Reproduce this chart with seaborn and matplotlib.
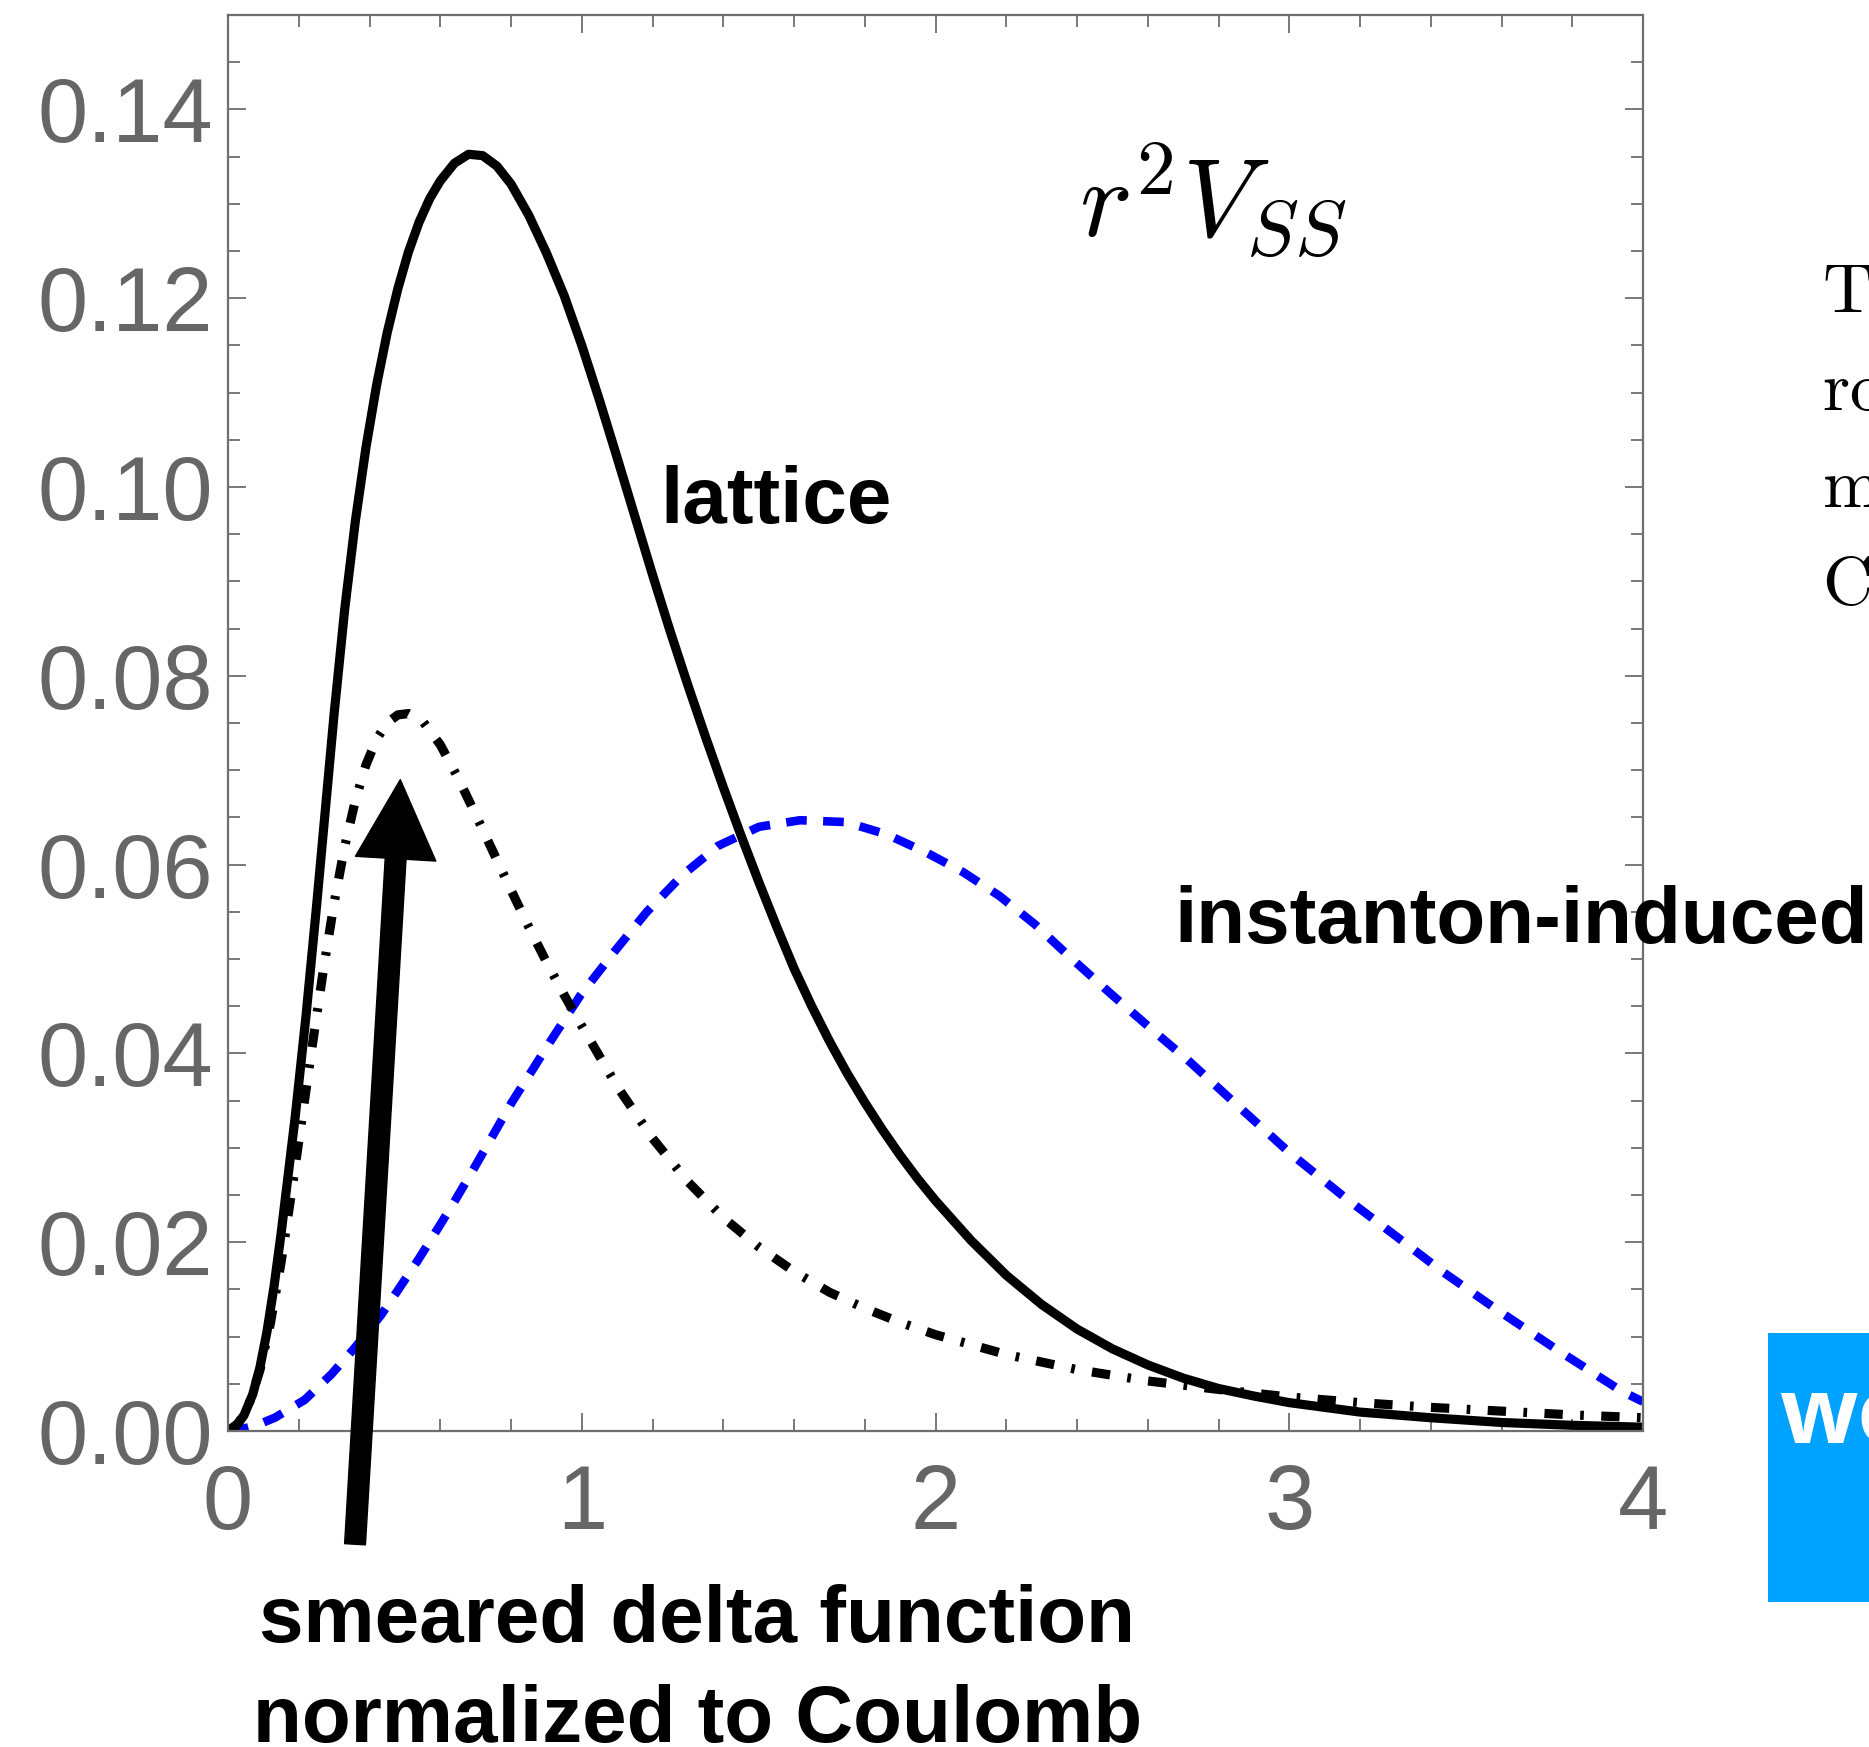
import numpy as np
import pandas as pd
import matplotlib
matplotlib.use("Agg")
import matplotlib.pyplot as plt
import seaborn as sns
from matplotlib.patches import FancyArrowPatch, ArrowStyle, Rectangle
from matplotlib.ticker import MultipleLocator, FixedLocator

# ---------------- data ----------------
lattice_r = [0.0, 0.02, 0.045, 0.07, 0.09, 0.11, 0.13, 0.15, 0.19, 0.22, 0.25, 0.28, 0.30,
             0.33, 0.36, 0.39, 0.42, 0.45, 0.48, 0.51, 0.54, 0.57, 0.60, 0.64, 0.68,
             0.72, 0.76, 0.80, 0.85, 0.90, 0.95, 1.00, 1.05, 1.10, 1.15, 1.20, 1.25,
             1.30, 1.35, 1.40, 1.45, 1.50, 1.55, 1.60, 1.65, 1.70, 1.75, 1.80, 1.85,
             1.90, 1.95, 2.00, 2.10, 2.20, 2.30, 2.40, 2.50, 2.60, 2.70, 2.80, 2.90,
             3.00, 3.20, 3.40, 3.60, 3.80, 4.00]
lattice_v = [0.0, 0.0004, 0.00165, 0.0039, 0.0067, 0.0105, 0.0153, 0.0209, 0.0333, 0.0438, 0.0555,
             0.0678, 0.0760, 0.0871, 0.0964, 0.1042, 0.1108, 0.11635, 0.1210, 0.1249, 0.12805,
             0.13054, 0.13243, 0.13430, 0.13525, 0.1351, 0.1340, 0.1321, 0.1288, 0.1248, 0.1203,
             0.1150, 0.1092, 0.1031, 0.0969, 0.0907, 0.0847, 0.0790, 0.0735, 0.0682, 0.0631,
             0.0582, 0.0535, 0.0490, 0.0450, 0.0413, 0.0379, 0.0348, 0.0319, 0.0292, 0.0267,
             0.0244, 0.0202, 0.0165, 0.0134, 0.0108, 0.0087, 0.0070, 0.0056, 0.0045, 0.0037,
             0.0030, 0.0020, 0.0014, 0.0009, 0.0006, 0.0004]

delta_r = [0.0, 0.03, 0.06, 0.09, 0.12, 0.15, 0.18, 0.21, 0.24, 0.27, 0.30, 0.33, 0.36,
           0.39, 0.42, 0.45, 0.48, 0.51, 0.55, 0.60, 0.65, 0.70, 0.75, 0.80, 0.85, 0.90,
           0.95, 1.00, 1.10, 1.20, 1.30, 1.40, 1.50, 1.60, 1.70, 1.80, 1.90, 2.00, 2.20,
           2.40, 2.60, 2.80, 3.00, 3.20, 3.40, 3.60, 3.80, 4.00]
delta_v = [0.0, 0.00084, 0.00293, 0.00642, 0.01144, 0.01786, 0.02539, 0.03334, 0.04129, 0.04896,
           0.05594, 0.06194, 0.06681, 0.07057, 0.07329, 0.07502, 0.07586, 0.07600, 0.0752, 0.0727,
           0.0692, 0.0653, 0.0613, 0.0573, 0.0534, 0.0497, 0.0462, 0.0429, 0.0365, 0.0310, 0.0264,
           0.0226, 0.0195, 0.0169, 0.0147, 0.0130, 0.0115, 0.0102, 0.0081, 0.0065, 0.0053, 0.0044,
           0.0036, 0.0030, 0.0025, 0.0021, 0.0017, 0.0014]

inst_r = [0.0, 0.028, 0.08, 0.132, 0.217, 0.292, 0.358, 0.433, 0.48, 0.537, 0.594, 0.64,
          0.698, 0.802, 0.858, 0.91, 0.997, 1.097, 1.184, 1.285, 1.386, 1.501, 1.617, 1.747,
          1.862, 1.978, 2.078, 2.18, 2.28, 2.38, 2.496, 2.628, 2.71, 2.862, 3.003, 3.155,
          3.296, 3.436, 3.589, 3.753, 3.94, 4.0]
inst_v = [0.0, 0.0001, 0.0006, 0.0014, 0.0033, 0.0060, 0.0088, 0.0123, 0.0149, 0.0181, 0.0215, 0.0243,
          0.0280, 0.0348, 0.0381, 0.0412, 0.0462, 0.0510, 0.0550, 0.0589, 0.0620, 0.0640, 0.0647, 0.0645,
          0.0632, 0.0612, 0.0592, 0.0567, 0.0537, 0.0502, 0.0463, 0.0420, 0.0394, 0.0342, 0.0294, 0.0248,
          0.0208, 0.0168, 0.0128, 0.0087, 0.0042, 0.0031]

x_ticks = [0, 1, 2, 3, 4]
x_tick_labels = ["0", "1", "2", "3", "4"]
y_ticks = [0.0, 0.02, 0.04, 0.06, 0.08, 0.10, 0.12, 0.14]
y_tick_labels = ["0.00", "0.02", "0.04", "0.06", "0.08", "0.10", "0.12", "0.14"]

# ---------------- style ----------------
sns.set_theme(style="white")
plt.rcParams["font.family"] = ["Liberation Sans", "DejaVu Sans"]
plt.rcParams["mathtext.fontset"] = "cm"

GRAY = "#6e6e6e"
LABEL_GRAY = "#666666"

fig = plt.figure(figsize=(18.69, 17.47), dpi=100)
ax = fig.add_axes([0.1220, 0.1809, 0.7571, 0.8105])

df_lat = pd.DataFrame({"r": lattice_r, "v": lattice_v})
df_del = pd.DataFrame({"r": delta_r, "v": delta_v})
df_ins = pd.DataFrame({"r": inst_r, "v": inst_v})

sns.lineplot(data=df_ins, x="r", y="v", ax=ax, color="#0000ff", lw=6.2, errorbar=None)
ax.lines[-1].set_dashes((2.4, 1.9))
ax.lines[-1].set_dash_capstyle("butt")
sns.lineplot(data=df_del, x="r", y="v", ax=ax, color="black", lw=6.6, errorbar=None)
ax.lines[-1].set_dashes((2.0, 1.9, 0.4, 1.9))
ax.lines[-1].set_dash_capstyle("butt")
sns.lineplot(data=df_lat, x="r", y="v", ax=ax, color="black", lw=6.6, errorbar=None)
ax.lines[-1].set_solid_joinstyle("round")

ax.set_xlim(0, 4)
ax.set_ylim(0, 0.15)
ax.set_xlabel("")
ax.set_ylabel("")
ax.xaxis.set_major_locator(FixedLocator(x_ticks))
ax.xaxis.set_minor_locator(MultipleLocator(0.2))
ax.yaxis.set_major_locator(FixedLocator(y_ticks))
ax.yaxis.set_minor_locator(MultipleLocator(0.005))
ax.set_xticklabels(x_tick_labels)
ax.set_yticklabels(y_tick_labels)

ax.tick_params(which="both", direction="in", top=True, right=True, bottom=True, left=True,
               color=GRAY, width=1.3)
ax.tick_params(which="major", length=13)
ax.tick_params(which="minor", length=8.5)
ax.tick_params(axis="x", which="major", labelsize=65, pad=23, labelcolor=LABEL_GRAY)
ax.tick_params(axis="y", which="major", labelsize=65, pad=11, labelcolor=LABEL_GRAY)
for s in ax.spines.values():
    s.set_color(GRAY)
    s.set_linewidth(1.6)
    s.set_visible(True)

# ---------------- annotations ----------------
bold = dict(fontsize=57.6, fontweight="bold", color="black")
ax.text(1.221, 0.0962, "lattice", ha="left", va="baseline", **bold)
ax.text(2.674, 0.0517, "instanton-induced", ha="left", va="baseline", clip_on=False, **bold)
ax.text(1.326, -0.0224, "smeared delta function", ha="center", va="baseline", clip_on=False, **bold)
ax.text(1.326, -0.0329, "normalized to Coulomb", ha="center", va="baseline", clip_on=False, **bold)
ax.text(2.405, 0.1264, r"$r^2V_{SS}$", ha="left", va="baseline", fontsize=80, color="black")

arrow = FancyArrowPatch((0.359, -0.0120), (0.487, 0.0690),
                        arrowstyle=ArrowStyle.Simple(head_length=57, head_width=58, tail_width=15),
                        mutation_scale=1, shrinkA=0, shrinkB=0, color="black",
                        clip_on=False, zorder=5)
ax.add_patch(arrow)

# partial text cut off at right edge
for txt, yb in [("Th", 312), ("ro", 410), ("m", 507), ("C", 604)]:
    fig.text(1822 / 1869, 1 - yb / 1747, r"$\mathrm{" + txt + "}$", ha="left", va="baseline",
             fontsize=50, color="black")

# blue box at bottom right
fig.patches.append(Rectangle((1768 / 1869, 1 - 1602 / 1747), 0.2, (1602 - 1333) / 1747,
                             transform=fig.transFigure, facecolor="#00a2ff", edgecolor="none"))
fig.text(1779 / 1869, 1 - 1443 / 1747, "wo", ha="left", va="baseline", fontsize=66,
         fontweight="bold", color="white", family=["Open Sans", "DejaVu Sans"])

fig.savefig("out.png", dpi=100)
